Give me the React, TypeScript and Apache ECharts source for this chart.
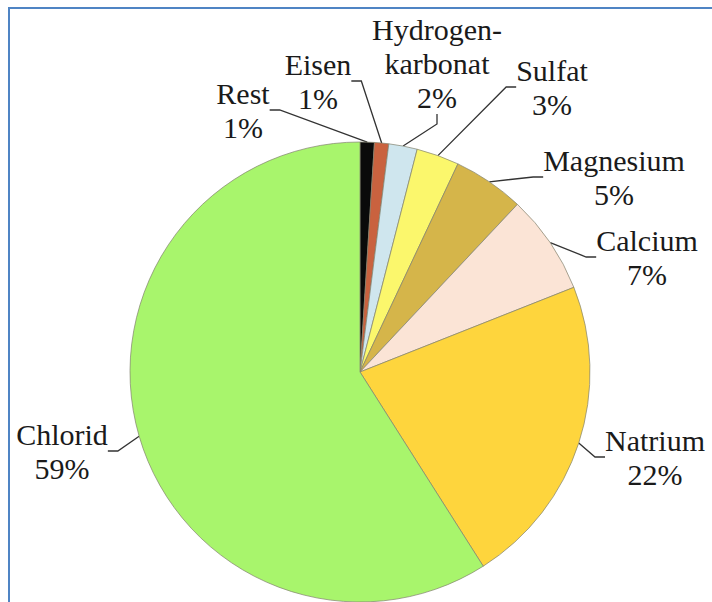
import React, { useEffect, useRef } from "react";
import * as echarts from "echarts";

// Composition shares, clockwise from 12 o'clock
const categories = [
  "Rest",
  "Eisen",
  "Hydrogen-\nkarbonat",
  "Sulfat",
  "Magnesium",
  "Calcium",
  "Natrium",
  "Chlorid",
];
const shares = [1, 1, 2, 3, 5, 7, 22, 59];
const sliceColors = [
  "#0a0a0a",
  "#c9623f",
  "#cfe6ee",
  "#fbf76c",
  "#d5b54a",
  "#fbe4d6",
  "#fed53d",
  "#a8f56c",
];

// Where each label block is centred on the canvas
const labelCenters: [number, number][] = [
  [243, 110],
  [318, 81],
  [437, 63],
  [552, 87],
  [614, 177],
  [647, 257],
  [655, 457],
  [62, 451],
];

export default function App() {
  const ref = useRef<HTMLDivElement>(null);

  useEffect(() => {
    if (!ref.current) return;
    const chart = echarts.init(ref.current, undefined, { renderer: "svg" });
    chart.setOption({
      animation: false,
      backgroundColor: "#ffffff",
      graphic: [
        {
          type: "rect",
          shape: { x: 9, y: 8, width: 760, height: 660 },
          style: { fill: "none", stroke: "#4f84c4", lineWidth: 2 },
          silent: true,
        },
      ],
      series: [
        {
          type: "pie",
          center: [360, 372],
          radius: 230,
          startAngle: 90,
          clockwise: true,
          data: categories.map((name, i) => ({
            name,
            value: shares[i],
            itemStyle: { color: sliceColors[i] },
          })),
          itemStyle: { borderColor: "rgba(130,130,110,0.7)", borderWidth: 1 },
          label: {
            show: true,
            formatter: (p: any) => `${p.name}\n${p.value}%`,
            fontFamily: "Liberation Serif",
            fontSize: 30,
            lineHeight: 34,
            color: "#1a1a1a",
            align: "center",
            overflow: "none",
          },
          labelLine: {
            show: true,
            length: 10,
            length2: 10,
            lineStyle: { color: "#333", width: 1.3 },
          },
          labelLayout: (params: any) => {
            const c = labelCenters[params.dataIndex];
            return { x: c[0], y: c[1], align: "center", verticalAlign: "middle" };
          },
          emphasis: { disabled: true },
        },
      ],
    });
    return () => chart.dispose();
  }, []);

  return (
    <div
      ref={ref}
      style={{ position: "fixed", left: 0, top: 0, width: 712, height: 602 }}
    />
  );
}
